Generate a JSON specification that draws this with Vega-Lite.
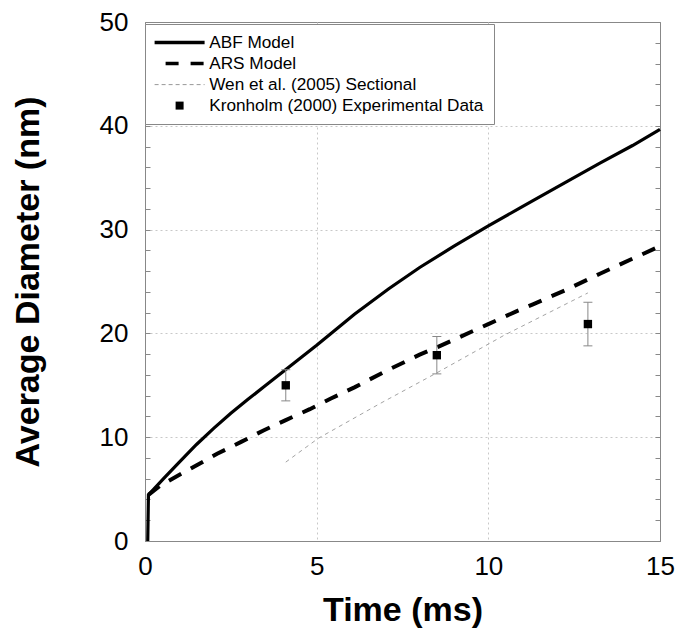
{
  "$schema": "https://vega.github.io/schema/vega-lite/v6.json",
  "width": 515,
  "height": 519,
  "autosize": "none",
  "padding": {"left": 145, "top": 22, "right": 20, "bottom": 91},
  "background": "white",
  "config": {
    "view": {"stroke": "#888", "strokeWidth": 1},
    "axis": {
      "labelFont": "Liberation Sans",
      "titleFont": "Liberation Sans",
      "labelColor": "black",
      "titleColor": "black",
      "labelFontSize": 26,
      "titleFontSize": 34,
      "titleFontWeight": "bold",
      "titleLimit": 1000,
      "labelFlush": false,
      "domainColor": "#888",
      "tickColor": "#888",
      "gridDash": [2, 3],
      "gridWidth": 1,
      "labelOverlap": false
    },
    "legend": {
      "orient": "none",
      "legendX": 0,
      "legendY": 2,
      "title": null,
      "labelFont": "Liberation Sans",
      "labelFontSize": 17.2,
      "labelColor": "black",
      "labelLimit": 500,
      "symbolSize": 100,
      "symbolOffset": 16,
      "labelOffset": 21,
      "padding": 10,
      "rowPadding": 3,
      "strokeColor": "#888",
      "fillColor": "white"
    }
  },
  "datasets": {
    "lines": [
      {"series": "ABF Model", "t": 0.08, "d": 0},
      {"series": "ABF Model", "t": 0.1, "d": 4.45},
      {"series": "ABF Model", "t": 0.54, "d": 6.0},
      {"series": "ABF Model", "t": 1.0, "d": 7.6},
      {"series": "ABF Model", "t": 1.5, "d": 9.3},
      {"series": "ABF Model", "t": 2.0, "d": 10.85},
      {"series": "ABF Model", "t": 2.5, "d": 12.3},
      {"series": "ABF Model", "t": 3.0, "d": 13.65},
      {"series": "ABF Model", "t": 3.5, "d": 14.95},
      {"series": "ABF Model", "t": 4.0, "d": 16.25},
      {"series": "ABF Model", "t": 4.5, "d": 17.55},
      {"series": "ABF Model", "t": 5.0, "d": 18.85},
      {"series": "ABF Model", "t": 5.4, "d": 19.95},
      {"series": "ABF Model", "t": 6.1, "d": 21.85},
      {"series": "ABF Model", "t": 7.1, "d": 24.3},
      {"series": "ABF Model", "t": 8.0, "d": 26.35},
      {"series": "ABF Model", "t": 9.0, "d": 28.4},
      {"series": "ABF Model", "t": 10.0, "d": 30.35},
      {"series": "ABF Model", "t": 10.9, "d": 32.05},
      {"series": "ABF Model", "t": 11.3, "d": 32.8},
      {"series": "ABF Model", "t": 12.3, "d": 34.65},
      {"series": "ABF Model", "t": 13.25, "d": 36.4},
      {"series": "ABF Model", "t": 14.2, "d": 38.1},
      {"series": "ABF Model", "t": 15.0, "d": 39.65},
      {"series": "ARS Model", "t": 0.1, "d": 4.45},
      {"series": "ARS Model", "t": 0.45, "d": 5.35},
      {"series": "ARS Model", "t": 0.8, "d": 6.0},
      {"series": "ARS Model", "t": 1.4, "d": 7.1},
      {"series": "ARS Model", "t": 2.1, "d": 8.4},
      {"series": "ARS Model", "t": 2.8, "d": 9.55},
      {"series": "ARS Model", "t": 3.45, "d": 10.65},
      {"series": "ARS Model", "t": 4.1, "d": 11.65},
      {"series": "ARS Model", "t": 4.8, "d": 12.7},
      {"series": "ARS Model", "t": 5.4, "d": 13.7},
      {"series": "ARS Model", "t": 6.1, "d": 14.8},
      {"series": "ARS Model", "t": 7.0, "d": 16.35},
      {"series": "ARS Model", "t": 8.0, "d": 17.95},
      {"series": "ARS Model", "t": 8.5, "d": 18.65},
      {"series": "ARS Model", "t": 9.0, "d": 19.4},
      {"series": "ARS Model", "t": 10.0, "d": 20.9},
      {"series": "ARS Model", "t": 10.8, "d": 22.1},
      {"series": "ARS Model", "t": 11.3, "d": 22.8},
      {"series": "ARS Model", "t": 12.3, "d": 24.25},
      {"series": "ARS Model", "t": 13.25, "d": 25.75},
      {"series": "ARS Model", "t": 14.2, "d": 27.2},
      {"series": "ARS Model", "t": 15.0, "d": 28.4},
      {"series": "Wen et al. (2005) Sectional", "t": 4.1, "d": 7.6},
      {"series": "Wen et al. (2005) Sectional", "t": 5.05, "d": 9.9},
      {"series": "Wen et al. (2005) Sectional", "t": 6.85, "d": 13.25},
      {"series": "Wen et al. (2005) Sectional", "t": 8.5, "d": 16.2},
      {"series": "Wen et al. (2005) Sectional", "t": 10.45, "d": 19.8},
      {"series": "Wen et al. (2005) Sectional", "t": 12.9, "d": 23.9}
    ],
    "pts": [
      {"series": "Kronholm (2000) Experimental Data", "t": 4.1, "d": 15.0, "lo": 13.5, "hi": 16.5},
      {"series": "Kronholm (2000) Experimental Data", "t": 8.5, "d": 17.9, "lo": 16.1, "hi": 19.7},
      {"series": "Kronholm (2000) Experimental Data", "t": 12.9, "d": 20.9, "lo": 18.8, "hi": 23.0}
    ]
  },
  "layer": [
    {
      "data": {"name": "lines"},
      "transform": [{"filter": "datum.series === 'Wen et al. (2005) Sectional'"}],
      "mark": {"type": "line", "strokeWidth": 0.9, "strokeDash": [4, 4]},
      "encoding": {
        "x": {"field": "t", "type": "quantitative", "scale": {"domain": [0, 15]},
          "axis": {"values": [0, 5, 10, 15], "ticks": false, "labelPadding": 12, "labelFlush": false, "title": "Time (ms)", "titlePadding": 14,
            "grid": true, "gridColor": {"condition": {"test": "datum.value > 0 && datum.value < 15", "value": "#c8c8c8"}, "value": "transparent"}}},
        "y": {"field": "d", "type": "quantitative", "scale": {"domain": [0, 50]},
          "axis": {"orient": "left", "values": [0,2,4,6,8,10,12,14,16,18,20,22,24,26,28,30,32,34,36,38,40,42,44,46,48,50],
            "labelExpr": "datum.value % 10 === 0 ? datum.label : ''", "tickSize": -5, "labelPadding": 22, "labelFlush": false,
            "title": "Average Diameter (nm)", "titlePadding": 54, "titleLimit": 1000,
            "grid": true, "gridColor": {"condition": {"test": "datum.value % 10 === 0 && datum.value > 0 && datum.value < 50", "value": "#c8c8c8"}, "value": "transparent"}}},
        "color": {"field": "series", "type": "nominal",
          "scale": {"domain": ["ABF Model", "ARS Model", "Wen et al. (2005) Sectional", "Kronholm (2000) Experimental Data"], "range": ["black", "black", "#999999", "black"]},
          "legend": {
            "encode": {"symbols": {"update": {
              "shape": {"signal": "datum.value === 'Kronholm (2000) Experimental Data' ? 'square' : 'M-5,0H5'"},
              "size": {"signal": "datum.value === 'Kronholm (2000) Experimental Data' ? 64 : 100"},
              "fill": {"signal": "datum.value === 'Kronholm (2000) Experimental Data' ? 'black' : 'transparent'"},
              "stroke": {"signal": "datum.value === 'Wen et al. (2005) Sectional' ? '#999999' : 'black'"},
              "strokeWidth": {"signal": "datum.value === 'Kronholm (2000) Experimental Data' ? 0 : datum.value === 'Wen et al. (2005) Sectional' ? 1 : 3.5"},
              "strokeDash": {"signal": "datum.value === 'ARS Model' ? [13, 12] : datum.value === 'Wen et al. (2005) Sectional' ? [4, 3] : [1, 0]"},
              "strokeDashOffset": {"signal": "datum.value === 'ARS Model' ? 14 : 0"},
              "opacity": {"value": 1}
            }}}
          }}
      }
    },
    {
      "data": {"name": "lines"},
      "transform": [{"filter": "datum.series === 'ARS Model'"}],
      "mark": {"type": "line", "strokeWidth": 4, "strokeDash": [14, 11]},
      "encoding": {
        "x": {"field": "t", "type": "quantitative", "scale": {"domain": [0, 15]}},
        "y": {"field": "d", "type": "quantitative", "scale": {"domain": [0, 50]}, "axis": null},
        "color": {"field": "series", "type": "nominal"}
      }
    },
    {
      "data": {"name": "lines"},
      "transform": [{"filter": "datum.series === 'ABF Model'"}],
      "mark": {"type": "line", "strokeWidth": 3.2},
      "encoding": {
        "x": {"field": "t", "type": "quantitative", "scale": {"domain": [0, 15]}},
        "y": {"field": "d", "type": "quantitative", "scale": {"domain": [0, 50]}, "axis": null},
        "color": {"field": "series", "type": "nominal"}
      }
    },
    {
      "data": {"name": "pts"},
      "mark": {"type": "rule", "color": "#888", "strokeWidth": 1},
      "encoding": {
        "x": {"field": "t", "type": "quantitative", "scale": {"domain": [0, 15]}},
        "y": {"field": "lo", "type": "quantitative", "scale": {"domain": [0, 50]},
          "axis": {"orient": "right", "values": [0,2,4,6,8,10,12,14,16,18,20,22,24,26,28,30,32,34,36,38,40,42,44,46,48,50], "labels": false, "tickSize": -5, "title": null, "grid": false}},
        "y2": {"field": "hi"}
      }
    },
    {
      "data": {"name": "pts"},
      "mark": {"type": "tick", "orient": "horizontal", "color": "#888", "size": 9, "thickness": 1, "opacity": 1},
      "encoding": {
        "x": {"field": "t", "type": "quantitative", "scale": {"domain": [0, 15]}},
        "y": {"field": "lo", "type": "quantitative", "scale": {"domain": [0, 50]}, "axis": null}
      }
    },
    {
      "data": {"name": "pts"},
      "mark": {"type": "tick", "orient": "horizontal", "color": "#888", "size": 9, "thickness": 1, "opacity": 1},
      "encoding": {
        "x": {"field": "t", "type": "quantitative", "scale": {"domain": [0, 15]}},
        "y": {"field": "hi", "type": "quantitative", "scale": {"domain": [0, 50]}, "axis": null}
      }
    },
    {
      "data": {"name": "pts"},
      "mark": {"type": "point", "shape": "square", "filled": true, "size": 70, "opacity": 1},
      "encoding": {
        "x": {"field": "t", "type": "quantitative", "scale": {"domain": [0, 15]}},
        "y": {"field": "d", "type": "quantitative", "scale": {"domain": [0, 50]}, "axis": null},
        "color": {"field": "series", "type": "nominal"}
      }
    }
  ],
  "resolve": {"axis": {"y": "independent"}}
}
